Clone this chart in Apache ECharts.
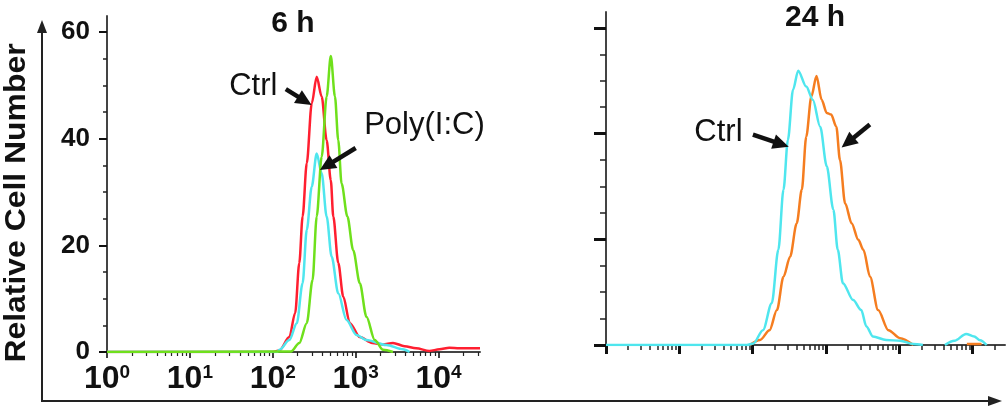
<!DOCTYPE html>
<html>
<head>
<meta charset="utf-8">
<script src="https://cdn.jsdelivr.net/npm/echarts@6/dist/echarts.min.js"></script>
<style>
  html, body { margin: 0; padding: 0; background: #fff; }
  #chart { width: 1008px; height: 408px; }
</style>
</head>
<body>
<div id="chart"></div>
<script>
const FONT = '"Liberation Sans", Arial, Helvetica, sans-serif'

// x = log10(fluorescence intensity), y = relative cell number
const ctrl6h = [[0, 0], [2.0, 0], [2.08, 0.3], [2.2, 2.8], [2.27, 7.3], [2.32, 16.7], [2.36, 25.4], [2.41, 35.4],
  [2.47, 46.6], [2.53, 51.6], [2.59, 47.9], [2.65, 39.7], [2.7, 32.2], [2.73, 25.4], [2.79, 16.7], [2.85, 10.4],
  [2.93, 5.4], [3.05, 2.8], [3.2, 1.7], [3.33, 1.4], [3.45, 1.7], [3.59, 1.1], [3.73, 0.7], [3.89, 0.2],
  [4.01, 0.5], [4.13, 0.8], [4.25, 0.7], [4.5, 0.7]]
const cyan6h = [[0, 0], [2.05, 0], [2.08, 0.4], [2.2, 2.25], [2.29, 5.4], [2.36, 12.9], [2.41, 22.9], [2.47, 31],
  [2.53, 37.2], [2.59, 33.5], [2.65, 25.4], [2.71, 17.9], [2.79, 11], [2.89, 6], [3.01, 3.2], [3.13, 2.25],
  [3.37, 1.3], [3.57, 0.5], [3.65, 0]]
const poly6h = [[0, 0], [2.22, 0.1], [2.32, 1.7], [2.41, 5.4], [2.48, 13.5], [2.53, 25.4], [2.59, 36.6], [2.65, 47.9],
  [2.7, 55.5], [2.75, 47.9], [2.79, 39.7], [2.83, 31.6], [2.9, 25.4], [2.97, 19.1], [3.05, 12.9], [3.13, 6.6],
  [3.23, 2.25], [3.33, 0.4], [3.45, 0]]

const ctrl24h = [[0, 0], [1.92, 0], [2.01, 0.3], [2.14, 2.8], [2.26, 7.9], [2.35, 18], [2.42, 29.4], [2.48, 38.8],
  [2.55, 48.3], [2.62, 51.9], [2.73, 48.9], [2.82, 46.4], [2.92, 41.3], [3.01, 33.8], [3.1, 25.6], [3.16, 18],
  [3.23, 11.7], [3.37, 8.5], [3.48, 6.6], [3.55, 3.5], [3.64, 1.6], [3.82, 0.95], [4.01, 0.8], [4.19, 0.2],
  [4.32, 0], [4.45, null], [4.62, 0], [4.75, 0.8], [4.91, 2.1], [5.02, 1.6], [5.1, 0.9], [5.19, 0]]
const poly24h = [[1.96, 0], [2.1, 0.95], [2.23, 2.8], [2.33, 6.6], [2.42, 12.9], [2.51, 16.7], [2.6, 23], [2.67, 29.4],
  [2.73, 39.4], [2.8, 47], [2.87, 50.9], [2.94, 46.4], [3.01, 43.9], [3.07, 43.6], [3.14, 41.3], [3.19, 35],
  [3.26, 26.8], [3.35, 23], [3.44, 19.9], [3.51, 18], [3.6, 12.9], [3.71, 6.6], [3.85, 2.8], [4.01, 1.3],
  [4.19, 0], [4.4, null], [4.92, 0.2], [5.12, 0.2]]

const yTicks = [0, 20, 40, 60]
const yMinorTicks = [5, 10, 15, 25, 30, 35, 45, 50, 55]
const decades6h = [0, 1, 2, 3, 4]
const decades24h = [0, 1, 2, 3, 4, 5]

const chart = echarts.init(document.getElementById('chart'))

function minorLog(decades, max) {
  const out = []
  decades.forEach(d => {
    for (let k = 2; k < 10; k++) {
      const v = d + Math.log10(k)
      if (v <= max) out.push(v)
    }
  })
  return out
}

function xAxes(gridIndex, max, decades, showLabels, major, minor) {
  return [
    {
      type: 'value', gridIndex, position: 'bottom', min: 0, max,
      axisLine: { show: true, onZero: false, lineStyle: { color: '#444', width: 2 } },
      axisTick: { show: true, customValues: decades, length: major[0], lineStyle: { color: '#111', width: major[1] } },
      axisLabel: {
        show: showLabels, customValues: decades, margin: 11,
        formatter: v => '{b|10}{s|' + v + '}',
        rich: {
          b: { fontSize: 32, fontWeight: 'bold', fontFamily: FONT, color: '#111', lineHeight: 32 },
          s: { fontSize: 19, fontWeight: 'bold', fontFamily: FONT, color: '#111', lineHeight: 19, verticalAlign: 'top' }
        }
      },
      splitLine: { show: false }
    },
    {
      type: 'value', gridIndex, position: 'bottom', min: 0, max,
      axisLine: { show: false, onZero: false },
      axisTick: { show: true, customValues: minorLog(decades, max), length: minor[0], lineStyle: { color: '#222', width: minor[1] } },
      axisLabel: { show: false },
      splitLine: { show: false }
    }
  ]
}

function yAxes(gridIndex, showLabels, major, minor) {
  return [
    {
      type: 'value', gridIndex, position: 'left', min: 0, max: 63,
      axisLine: { show: true, onZero: false, lineStyle: { color: '#444', width: 2 } },
      axisTick: { show: true, customValues: yTicks, length: major[0], lineStyle: { color: '#111', width: major[1] } },
      axisLabel: {
        show: showLabels, customValues: yTicks, margin: 17,
        fontSize: 26, fontWeight: 'bold', fontFamily: FONT, color: '#111'
      },
      splitLine: { show: false }
    },
    {
      type: 'value', gridIndex, position: 'left', min: 0, max: 63,
      axisLine: { show: false, onZero: false },
      axisTick: { show: true, customValues: yMinorTicks, length: minor[0], lineStyle: { color: '#222', width: minor[1] } },
      axisLabel: { show: false },
      splitLine: { show: false }
    }
  ]
}

function curve(name, data, color, axisIdx) {
  return {
    type: 'line', name, data, xAxisIndex: axisIdx, yAxisIndex: axisIdx,
    symbol: 'none', showSymbol: false, smooth: 0.3, smoothMonotone: 'x',
    lineStyle: { color, width: 2.5 }, itemStyle: { color },
    animation: false, silent: true
  }
}

function arrows(list) {
  return {
    silent: true, symbol: ['none', 'triangle'], symbolSize: [15, 16], animation: false,
    lineStyle: { color: '#111', width: 4.5, type: 'solid' },
    itemStyle: { color: '#111' },
    label: { show: false },
    data: list.map(a => [{ coord: a[0] }, { coord: a[1] }])
  }
}

function texts(list) {
  return {
    silent: true, symbol: 'circle', symbolSize: 1, animation: false,
    itemStyle: { color: 'rgba(0,0,0,0)' },
    label: { show: true, position: 'inside', fontSize: 31, fontFamily: FONT, color: '#111', formatter: p => p.name },
    data: list.map(t => ({ name: t[0], coord: t[1] }))
  }
}

const s6Ctrl = curve('Ctrl 6 h', ctrl6h, '#ff1f30', 0)
const s6Cyan = curve('Poly(I:C) 6 h', cyan6h, '#4fe6ee', 0)
const s6Poly = curve('Poly 6 h', poly6h, '#6fe01c', 0)
s6Poly.markLine = arrows([[[2.157, 49.3], [2.386, 47.1]], [[3.0, 38.25], [2.65, 34.9]]])
s6Poly.markPoint = texts([['Ctrl', [1.765, 49.7]], ['Poly(I:C)', [3.83, 42.4]]])

const s24Poly = curve('Poly(I:C) 24 h', poly24h, '#f57d20', 2)
const s24Ctrl = curve('Ctrl 24 h', ctrl24h, '#4fe6ee', 2)
s24Ctrl.markLine = arrows([[[2.003, 39.8], [2.388, 38.0]], [[3.597, 41.7], [3.297, 38.3]]])
s24Ctrl.markPoint = texts([['Ctrl', [1.533, 40.2]]])

const option = {
  backgroundColor: '#fff',
  animation: false,
  grid: [
    { left: 107, right: 528, top: 16, bottom: 56 },
    { left: 606, right: 3, top: 12, bottom: 63 }
  ],
  xAxis: [
    ...xAxes(0, 4.5, decades6h, true, [6, 1.6], [4, 1.2]),
    ...xAxes(1, 5.44, decades24h, false, [9, 3], [5, 1.5])
  ],
  yAxis: [
    ...yAxes(0, true, [8, 2], [4, 1.5]),
    ...yAxes(1, false, [12, 3], [6, 1.5])
  ],
  series: [s6Ctrl, s6Cyan, s6Poly, s24Poly, s24Ctrl],
  graphic: [
    { type: 'text', x: 293, y: 24, silent: true,
      style: { text: '6 h', font: 'bold 30px ' + FONT, fill: '#111', textAlign: 'center', textVerticalAlign: 'middle' } },
    { type: 'text', x: 815, y: 18, silent: true,
      style: { text: '24 h', font: 'bold 30px ' + FONT, fill: '#111', textAlign: 'center', textVerticalAlign: 'middle' } },
    { type: 'text', x: 17, y: 203, rotation: Math.PI / 2, scaleX: 1.1, silent: true,
      style: { text: 'Relative Cell Number', font: 'bold 29px ' + FONT, fill: '#111', textAlign: 'center', textVerticalAlign: 'middle' } },
    { type: 'line', silent: true, shape: { x1: 42, y1: 401, x2: 42, y2: 30 }, style: { stroke: '#222', lineWidth: 2 } },
    { type: 'polygon', silent: true, shape: { points: [[37, 33], [42, 20], [47, 33]] }, style: { fill: '#222' } },
    { type: 'line', silent: true, shape: { x1: 41, y1: 401, x2: 990, y2: 401 }, style: { stroke: '#222', lineWidth: 2 } },
    { type: 'polygon', silent: true, shape: { points: [[988, 396], [1002, 401], [988, 406]] }, style: { fill: '#222' } }
  ]
}

chart.setOption(option)
</script>
</body>
</html>
